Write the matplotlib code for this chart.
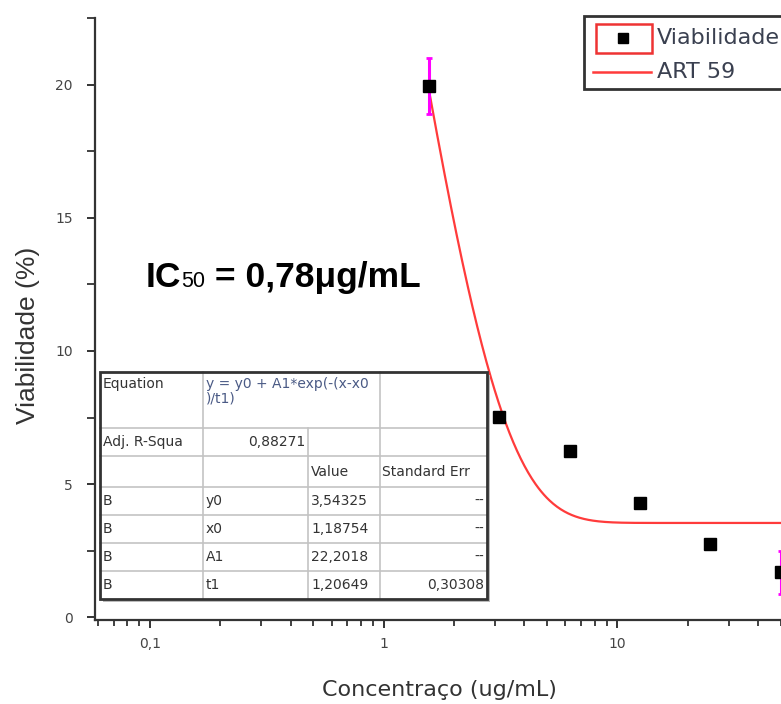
import numpy as np
import matplotlib
matplotlib.use("Agg")
import matplotlib.pyplot as plt
from matplotlib.ticker import FixedLocator, FuncFormatter, LogLocator, MultipleLocator, NullFormatter
from matplotlib.patches import Rectangle
from matplotlib.lines import Line2D

# ---------------- data ----------------
conc = [1.5625, 3.125, 6.25, 12.5, 25, 50]
viab = [19.96, 7.52, 6.24, 4.29, 2.75, 1.69]
viab_err = [1.05, 0.0, 0.0, 0.0, 0.0, 0.8]

# fitted model parameters (as shown in the table)
fit_y0 = 3.54325
fit_x0 = 1.18754
fit_A1 = 22.2018
fit_t1 = 1.20649
fit_t1_se = 0.30308
adj_r2 = "0,88271"

x_ticks = [0.1, 1, 10]
x_tick_labels = ["0,1", "1", "10"]
y_ticks = [0, 5, 10, 15, 20]

table_col0 = ["Equation", "Adj. R-Squa", "", "B", "B", "B", "B"]
param_names = ["y0", "x0", "A1", "t1"]
param_values = ["3,54325", "1,18754", "22,2018", "1,20649"]
param_errors = ["--", "--", "--", "0,30308"]
equation_text = "y = y0 + A1*exp(-(x-x0\n)/t1)"
legend_labels = ["Viabilidade", "ART 59"]
ic50_parts = ["IC", "50", " = 0,78\u03bcg/mL"]

# ---------------- figure ----------------
W, H = 781, 704
fig = plt.figure(figsize=(W / 100, H / 100), dpi=100)
fig.patch.set_facecolor("white")

def fx(x):
    return x / W

def fy(y):
    return 1 - y / H

ax_left, ax_right, ax_top, ax_bottom = 95, 892, 18, 620
ax = fig.add_axes([fx(ax_left), fy(ax_bottom), fx(ax_right - ax_left), (ax_bottom - ax_top) / H])
ax.set_facecolor("white")
ax.set_xscale("log")
ax.set_xlim(0.0582, 150)
ax.set_ylim(-0.1, 22.5)

for s in ["top", "right"]:
    ax.spines[s].set_visible(False)
for s in ["left", "bottom"]:
    ax.spines[s].set_color("#333333")
    ax.spines[s].set_linewidth(1.6)

ax.xaxis.set_major_locator(FixedLocator(x_ticks + [100]))
ax.xaxis.set_major_formatter(FuncFormatter(lambda v, p: x_tick_labels[x_ticks.index(v)] if v in x_ticks else ""))
ax.xaxis.set_minor_locator(LogLocator(base=10, subs=np.arange(2, 10)))
ax.xaxis.set_minor_formatter(NullFormatter())
ax.yaxis.set_major_locator(FixedLocator(y_ticks))
ax.yaxis.set_minor_locator(MultipleLocator(2.5))

ax.tick_params(axis="both", which="major", direction="out", length=6, width=1.4,
               color="#333333", labelcolor="#444444", labelsize=10)
ax.tick_params(axis="x", which="minor", direction="out", length=4, width=1.3, color="#333333")
ax.tick_params(axis="y", which="minor", direction="out", length=6, width=1.3, color="#333333")
ax.tick_params(axis="x", which="major", pad=6)
ax.tick_params(axis="y", which="major", pad=10)
for lab in ax.get_xticklabels() + ax.get_yticklabels():
    lab.set_fontfamily("DejaVu Sans")

# axis titles (figure pixel placement)
fig.text(fx(439), fy(690), "Concentraço (ug/mL)", fontsize=16, color="#333333",
         fontfamily="DejaVu Sans", ha="center", va="center")
fig.text(fx(28), fy(335), "Viabilidade (%)", fontsize=19, color="#333333", rotation=90,
         fontfamily="Liberation Sans", ha="center", va="center")

# fitted curve
xf = np.geomspace(conc[0], 150, 500)
yf = fit_y0 + fit_A1 * np.exp(-(xf - fit_x0) / fit_t1)
ax.plot(xf, yf, color="#ff3b3b", lw=1.6, zorder=3)

# error bars (only where visible)
ex = [c for c, e in zip(conc, viab_err) if e > 0]
ey = [v for v, e in zip(viab, viab_err) if e > 0]
ee = [e for e in viab_err if e > 0]
ax.errorbar(ex, ey, yerr=ee, fmt="none", ecolor="#ff00ff", elinewidth=2.2, capsize=2.5,
            capthick=2, zorder=4)
ax.plot(conc, viab, ls="none", marker="s", ms=9, color="black", zorder=5, clip_on=False)

# ---------------- legend (manual, figure pixels) ----------------
leg_frame = Rectangle((fx(584), fy(89)), fx(800 - 584), (89 - 16) / H, transform=fig.transFigure,
                      facecolor="white", edgecolor="#333333", lw=2, zorder=10)
fig.add_artist(leg_frame)
fig.add_artist(Rectangle((fx(596), fy(53)), fx(652 - 596), (53 - 24) / H, transform=fig.transFigure,
                         facecolor="none", edgecolor="#ee3333", lw=1.8, zorder=11))
fig.add_artist(Line2D([fx(623)], [fy(38)], marker="s", ms=7.5, color="black", ls="none",
                      transform=fig.transFigure, zorder=12))
fig.add_artist(Line2D([fx(593), fx(651)], [fy(72), fy(72)], color="#ff3b3b", lw=1.8,
                      transform=fig.transFigure, zorder=12))
fig.text(fx(657), fy(38), legend_labels[0], fontsize=16, color="#3a4050", va="center", ha="left",
         fontfamily="DejaVu Sans", zorder=12)
fig.text(fx(657), fy(72), legend_labels[1], fontsize=16, color="#3a4050", va="center", ha="left",
         fontfamily="DejaVu Sans", zorder=12)

# ---------------- IC50 annotation ----------------
renderer = fig.canvas.get_renderer()
xcur = 146
base_y = 287
sizes = [25.5, 15.5, 25.5]
weights = ["bold", "normal", "bold"]
for part, sz, wt in zip(ic50_parts, sizes, weights):
    t = fig.text(fx(xcur), fy(base_y), part, fontsize=sz, fontweight=wt, color="black",
                 fontfamily="Liberation Sans", va="baseline", ha="left")
    bb = t.get_window_extent(renderer=renderer)
    xcur += bb.width

# ---------------- fit table ----------------
cols = [100, 203, 308, 380, 487]
rows = [372, 428, 456, 487, 515, 543, 571, 599]
grid_c = "#c4c4c4"
txt_c = "#333333"
tfs = 10

fig.add_artist(Rectangle((fx(103), fy(602)), fx(487 - 100), (599 - 372) / H, transform=fig.transFigure,
                         facecolor="#bbbbbb", edgecolor="none", zorder=6))
fig.add_artist(Rectangle((fx(100), fy(599)), fx(487 - 100), (599 - 372) / H, transform=fig.transFigure,
                         facecolor="white", edgecolor="none", zorder=7))
for r in rows[1:-1]:
    fig.add_artist(Line2D([fx(100), fx(487)], [fy(r), fy(r)], color=grid_c, lw=1.2,
                          transform=fig.transFigure, zorder=8))
for i in range(len(rows) - 1):
    for c in cols[1:-1]:
        if i == 0 and c == 308:
            continue
        fig.add_artist(Line2D([fx(c), fx(c)], [fy(rows[i]), fy(rows[i + 1])], color=grid_c, lw=1.2,
                              transform=fig.transFigure, zorder=8))
fig.add_artist(Rectangle((fx(100), fy(599)), fx(487 - 100), (599 - 372) / H, transform=fig.transFigure,
                         facecolor="none", edgecolor="#333333", lw=2, zorder=9))

def cell_text(x, r, s, ha="left", color=txt_c, top=False):
    if top:
        y = rows[r] + 5
        va = "top"
    else:
        y = (rows[r] + rows[r + 1]) / 2
        va = "center"
    fig.text(fx(x), fy(y), s, fontsize=tfs, color=color, ha=ha, va=va,
             fontfamily="DejaVu Sans", zorder=10, linespacing=1.0)

for r, s in enumerate(table_col0):
    if s:
        cell_text(103, r, s, top=(r == 0))
cell_text(206, 0, equation_text, color="#4a5a85", top=True)
cell_text(305, 1, adj_r2, ha="right")
cell_text(311, 2, "Value")
cell_text(382, 2, "Standard Err")
for i in range(4):
    cell_text(206, 3 + i, param_names[i])
    cell_text(311, 3 + i, param_values[i])
    cell_text(484, 3 + i, param_errors[i], ha="right")

fig.savefig("out.png", dpi=100)
